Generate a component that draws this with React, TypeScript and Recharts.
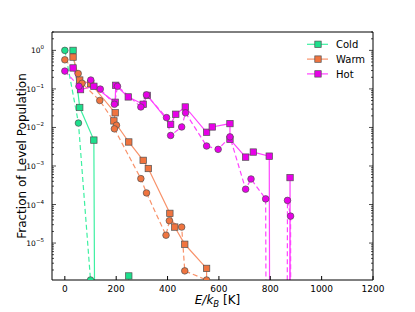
import React from "react";
import { LineChart, Line, XAxis, YAxis, Legend } from "recharts";

// E/kB [K] and fraction of level population.
// Empty levels sit far below the log axis (like matplotlib's clipped log),
// which gives the vertical drops to the bottom of the frame.
const ZERO = 1e-100;

const coldSquareE = [32, 58, 113, 180, 249];
const coldSquarePop = [1.0, 0.033, 0.0047, ZERO, 1.4e-6];
const coldCircleE = [0, 53, 100];
const coldCirclePop = [1.0, 0.013, 1.1e-6];

const warmSquareE = [32, 58, 101, 196, 191, 249, 305, 325, 409, 428, 467, 552, 560];
const warmSquarePop = [0.67, 0.17, 0.137, 0.024, 0.0148, 0.0042, 0.0014, 8.6e-4, 5.9e-5, 2.6e-5, 9.3e-6, 2.2e-6, ZERO];
const warmCircleE = [0, 52, 67, 136, 201, 193, 296, 318, 394, 407, 455, 467, 552];
const warmCirclePop = [0.57, 0.25, 0.14, 0.05, 0.0114, 0.0092, 4.7e-4, 2.0e-4, 1.6e-5, 3.8e-5, 2.6e-5, 1.9e-6, 1.1e-6];

const hotSquareE = [32, 61, 113, 196, 198, 247, 305, 321, 412, 432, 469, 552, 574, 643, 643, 704, 734, 796, 830, 877, 900];
const hotSquarePop = [0.35, 0.096, 0.117, 0.045, 0.124, 0.062, 0.04, 0.068, 0.012, 0.022, 0.034, 0.0075, 0.0103, 0.0126, 0.0049, 0.0017, 0.0023, 0.0018, ZERO, 5.0e-4, ZERO];
const hotCircleE = [0, 55, 101, 138, 193, 205, 296, 318, 396, 412, 455, 470, 552, 597, 643, 704, 725, 782, 830, 867, 879, 900];
const hotCirclePop = [0.29, 0.117, 0.17, 0.099, 0.04, 0.117, 0.034, 0.07, 0.018, 0.0062, 0.0103, 0.024, 0.0033, 0.0027, 0.0057, 2.5e-4, 4.6e-4, 1.4e-4, ZERO, 1.28e-4, 5.0e-5, ZERO];

const xTicks = [0, 200, 400, 600, 800, 1000, 1200];
const yDecades = [1e-6, 1e-5, 1e-4, 1e-3, 1e-2, 1e-1, 1];
const xDomain: [number, number] = [-50, 1200];
const yDomain: [number, number] = [1.1e-6, 3];
// log minor ticks 1..9 x decade
const yTicks = yDecades
  .flatMap((d) => [1, 2, 3, 4, 5, 6, 7, 8, 9].map((m) => m * d))
  .filter((v) => v >= yDomain[0] && v <= yDomain[1] * 1.0001);

type Pt = { e: number; p: number };
const zip = (es: number[], ps: number[]): Pt[] => es.map((e, i) => ({ e, p: ps[i] }));

const series = [
  { name: "Cold", line: "#3ef0a2", fill: "#1ddf8c", squares: zip(coldSquareE, coldSquarePop), circles: zip(coldCircleE, coldCirclePop) },
  { name: "Warm", line: "#f8926a", fill: "#f0743f", squares: zip(warmSquareE, warmSquarePop), circles: zip(warmCircleE, warmCirclePop) },
  { name: "Hot", line: "#ff44ff", fill: "#e800e8", squares: zip(hotSquareE, hotSquarePop), circles: zip(hotCircleE, hotCirclePop) },
];

const font = "DejaVu Sans, sans-serif";
const edge = "#505050";

const squareDot = (fill: string) => (props: any) => {
  const { cx, cy, payload, index } = props;
  if (payload.p <= ZERO || !isFinite(cy)) return <g key={`s${index}`} />;
  return <rect key={`s${index}`} x={cx - 3.2} y={cy - 3.2} width={6.4} height={6.4} fill={fill} stroke={edge} strokeWidth={0.7} />;
};

const circleDot = (fill: string) => (props: any) => {
  const { cx, cy, payload, index } = props;
  if (payload.p <= ZERO || !isFinite(cy)) return <g key={`c${index}`} />;
  return <circle key={`c${index}`} cx={cx} cy={cy} r={3.3} fill={fill} stroke={edge} strokeWidth={0.7} />;
};

const isDecade = (v: number) => Math.abs(Math.log10(v) - Math.round(Math.log10(v))) < 1e-6;

const BottomTick = (props: any) => {
  const { x, y, payload } = props;
  return (
    <g>
      <line x1={x} x2={x} y1={y} y2={y - 4} stroke="#000" />
      <text x={x} y={y + 12} textAnchor="middle" fontSize={9} fontFamily={font} fill="#000">
        {payload.value}
      </text>
    </g>
  );
};

const TopTick = (props: any) => {
  const { x, y } = props;
  return <line x1={x} x2={x} y1={y} y2={y + 4} stroke="#000" />;
};

const LeftTick = (props: any) => {
  const { x, y, payload } = props;
  const v = payload.value;
  const major = isDecade(v);
  const exp = Math.round(Math.log10(v));
  return (
    <g>
      <line x1={x} x2={x + (major ? 4 : 2)} y1={y} y2={y} stroke="#000" strokeWidth={0.7} />
      {major && (
        <text x={x - 8} y={y + 3} textAnchor="end" fontSize={7.5} fontFamily={font} fill="#000">
          10
          <tspan dy={-4} fontSize={5.5}>
            {exp < 0 ? `\u2212${-exp}` : exp}
          </tspan>
        </text>
      )}
    </g>
  );
};

const RightTick = (props: any) => {
  const { x, y, payload } = props;
  const major = isDecade(payload.value);
  return <line x1={x} x2={x - (major ? 4 : 2)} y1={y} y2={y} stroke="#000" strokeWidth={0.7} />;
};

const renderYLabel = (props: any) => {
  const vb = props.viewBox;
  const cx = vb.x + 22;
  const cy = vb.y + vb.height / 2;
  return (
    <text transform={`translate(${cx},${cy}) rotate(-90)`} textAnchor="middle" dominantBaseline="central" fontSize={12} fontFamily={font} fill="#000">
      Fraction of Level Population
    </text>
  );
};

const renderXLabel = (props: any) => {
  const vb = props.viewBox;
  return (
    <text x={vb.x + vb.width / 2 + 5} y={vb.y + 24} textAnchor="middle" fontSize={12} fontFamily={font} fill="#000">
      <tspan fontStyle="italic">E/k</tspan>
      <tspan fontStyle="italic" fontSize={8.5} dy={3}>B</tspan>
      <tspan dy={-3}> [K]</tspan>
    </text>
  );
};

const LegendBox = () => (
  <svg width={80} height={46}>
    {series.map((s, i) => {
      const cy = 8.3 + i * 14.8;
      return (
        <g key={s.name}>
          <line x1={4} x2={25} y1={cy} y2={cy} stroke={s.line} strokeWidth={1.2} />
          <rect x={11.8} y={cy - 3.2} width={6.4} height={6.4} fill={s.fill} stroke={edge} strokeWidth={0.7} />
          <text x={33} y={cy + 3.6} fontSize={10} fontFamily={font} fill="#000">
            {s.name}
          </text>
        </g>
      );
    })}
  </svg>
);

export default function App() {
  return (
    <div style={{ position: "absolute", left: 0, top: 0 }}>
      <LineChart width={415} height={312} margin={{ top: 31, right: 0, bottom: 0, left: 0 }}>
        <XAxis
          xAxisId="bottom"
          dataKey="e"
          type="number"
          domain={xDomain}
          ticks={xTicks}
          interval={0}
          allowDataOverflow
          height={32}
          tickSize={0}
          tickMargin={0}
          tickLine={false}
          tick={<BottomTick />}
          axisLine={{ stroke: "#000" }}
          label={{ content: renderXLabel }}
        />
        <XAxis
          xAxisId="top"
          orientation="top"
          type="number"
          domain={xDomain}
          ticks={xTicks}
          interval={0}
          allowDataOverflow
          height={1}
          tickSize={0}
          tickMargin={0}
          tickLine={false}
          tick={<TopTick />}
          axisLine={{ stroke: "#000" }}
        />
        <YAxis
          yAxisId="left"
          type="number"
          scale="log"
          domain={yDomain}
          ticks={yTicks}
          interval={0}
          allowDataOverflow
          width={52}
          tickSize={0}
          tickMargin={0}
          tickLine={false}
          tick={<LeftTick />}
          axisLine={{ stroke: "#000" }}
          label={{ content: renderYLabel }}
        />
        <YAxis
          yAxisId="right"
          orientation="right"
          type="number"
          scale="log"
          domain={yDomain}
          ticks={yTicks}
          interval={0}
          allowDataOverflow
          width={42}
          tickSize={0}
          tickMargin={0}
          tickLine={false}
          tick={<RightTick />}
          axisLine={{ stroke: "#000" }}
        />
        {series.map((s) => (
          <Line
            key={s.name + "-sq"}
            data={s.squares}
            dataKey="p"
            xAxisId="bottom"
            yAxisId="left"
            type="linear"
            stroke={s.line}
            strokeWidth={1.2}
            dot={squareDot(s.fill)}
            activeDot={false}
            isAnimationActive={false}
          />
        ))}
        {series.map((s) => (
          <Line
            key={s.name + "-ci"}
            data={s.circles}
            dataKey="p"
            xAxisId="bottom"
            yAxisId="left"
            type="linear"
            stroke={s.line}
            strokeWidth={1.2}
            strokeDasharray="5 3"
            dot={circleDot(s.fill)}
            activeDot={false}
            isAnimationActive={false}
          />
        ))}
        <Legend
          layout="vertical"
          align="center"
          verticalAlign="middle"
          content={() => <LegendBox />}
          wrapperStyle={{ left: 303, top: 36, width: 80, height: 46 }}
        />
      </LineChart>
    </div>
  );
}
